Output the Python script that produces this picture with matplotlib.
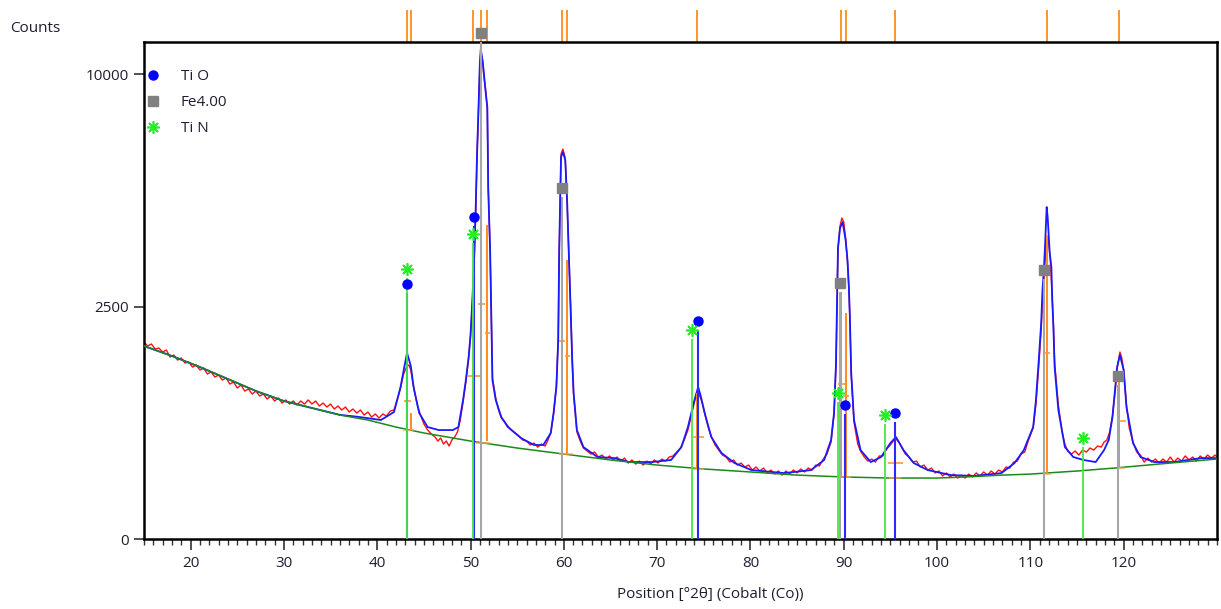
import numpy as np
import matplotlib
matplotlib.use('Agg')
import matplotlib.pyplot as plt
from matplotlib import transforms
from matplotlib.lines import Line2D

plt.rcParams['font.family'] = ['Open Sans', 'DejaVu Sans']

# observed pattern (red)
obs_2theta = [
    15.0, 15.4, 15.8, 16.2, 16.6, 17.0, 17.4, 17.8, 18.2, 18.6,
    19.0, 19.4, 19.8, 20.2, 20.6, 21.0, 21.4, 21.8, 22.2, 22.6,
    23.0, 23.4, 23.8, 24.2, 24.6, 25.0, 25.4, 25.8, 26.2, 26.6,
    27.0, 27.4, 27.8, 28.2, 28.6, 29.0, 29.4, 29.8, 30.2, 30.6,
    31.0, 31.4, 31.8, 32.2, 32.6, 33.0, 33.4, 33.8, 34.2, 34.6,
    35.0, 35.4, 35.8, 36.2, 36.6, 37.0, 37.4, 37.8, 38.2, 38.6,
    39.0, 39.4, 39.8, 40.2, 40.6, 41.0, 41.4, 41.8, 42.2, 42.5,
    42.8, 43.0, 43.2, 43.4, 43.6, 43.8, 44.0, 44.3, 44.6, 45.0,
    45.4, 45.8, 46.2, 46.5, 46.8, 47.1, 47.4, 47.7, 48.0, 48.3,
    48.6, 48.9, 49.2, 49.5, 49.8, 50.0, 50.2, 50.4, 50.55, 50.7,
    50.85, 51.0, 51.1, 51.3, 51.4, 51.6, 51.8, 51.9, 52.1, 52.2,
    52.35, 52.7, 53.0, 53.3, 53.6, 54.0, 54.4, 54.8, 55.2, 55.6,
    56.0, 56.4, 56.8, 57.2, 57.6, 58.0, 58.3, 58.6, 58.9, 59.2,
    59.4, 59.5, 59.7, 59.9, 60.15, 60.35, 60.5, 60.7, 60.9, 61.05,
    61.4, 61.8, 62.1, 62.5, 62.9, 63.3, 63.7, 64.1, 64.5, 64.9,
    65.3, 65.7, 66.1, 66.5, 66.9, 67.3, 67.7, 68.1, 68.5, 68.9,
    69.3, 69.7, 70.1, 70.5, 70.9, 71.3, 71.7, 72.1, 72.5, 72.9,
    73.3, 73.7, 74.0, 74.3, 74.5, 74.8, 75.1, 75.5, 75.8, 76.2,
    76.6, 77.0, 77.4, 77.8, 78.2, 78.6, 79.0, 79.4, 79.8, 80.2,
    80.6, 81.0, 81.4, 81.8, 82.2, 82.6, 83.0, 83.4, 83.8, 84.2,
    84.6, 85.0, 85.4, 85.8, 86.2, 86.6, 87.0, 87.4, 87.8, 88.2,
    88.64, 88.96, 89.17, 89.28, 89.38, 89.6, 89.8, 90.0, 90.2, 90.4,
    90.55, 90.65, 90.8, 91.1, 91.5, 91.8, 92.2, 92.6, 93.0, 93.4,
    93.8, 94.2, 94.6, 95.0, 95.3, 95.6, 95.9, 96.2, 96.6, 97.0,
    97.4, 97.8, 98.2, 98.6, 99.0, 99.4, 99.8, 100.2, 100.6, 101.0,
    101.4, 101.8, 102.2, 102.6, 103.0, 103.4, 103.8, 104.2, 104.6, 105.0,
    105.4, 105.8, 106.2, 106.6, 107.0, 107.4, 107.8, 108.2, 108.6, 109.0,
    109.4, 109.8, 110.3, 110.6, 110.9, 111.16, 111.3, 111.45, 111.6, 111.75,
    111.86, 112.0, 112.15, 112.3, 112.47, 112.6, 113.0, 113.4, 113.7, 114.0,
    114.4, 114.8, 115.2, 115.6, 116.0, 116.4, 116.8, 117.2, 117.6, 117.9,
    118.2, 118.5, 118.8, 119.1, 119.3, 119.6, 119.8, 120.0, 120.3, 120.6,
    121.0, 121.4, 121.8, 122.2, 122.6, 123.0, 123.4, 123.8, 124.2, 124.6,
    125.0, 125.4, 125.8, 126.2, 126.6, 127.0, 127.4, 127.8, 128.2, 128.6,
    129.0, 129.4, 129.8, 130.0,
]
obs_counts = [
    1795, 1723, 1759, 1670, 1687, 1617, 1652, 1532, 1566, 1482,
    1515, 1433, 1449, 1368, 1400, 1321, 1352, 1259, 1290, 1214,
    1244, 1169, 1199, 1111, 1140, 1055, 1097, 1013, 1041, 972,
    1013, 946, 972, 907, 946, 881, 920, 855, 894, 843,
    881, 830, 881, 843, 894, 843, 881, 818, 855, 806,
    843, 782, 818, 770, 806, 746, 782, 734, 770, 711,
    746, 688, 723, 677, 723, 700, 758, 770, 920, 1055,
    1244, 1321, 1384, 1400, 1321, 1140, 999, 830, 723, 612,
    550, 510, 481, 444, 472, 417, 444, 400, 453, 481,
    530, 655, 868, 1140, 1515, 1906, 2598, 3651, 4885, 6749,
    8432, 10347, 10969, 10611, 10000, 9407, 8512, 5763, 3810, 2598,
    1199, 920, 770, 677, 644, 591, 550, 520, 491, 453,
    444, 409, 426, 391, 417, 400, 453, 520, 723, 1083,
    1869, 3730, 6855, 7034, 6713, 5252, 3998, 2686, 1449, 959,
    530, 435, 383, 358, 334, 350, 311, 326, 296, 319,
    289, 311, 281, 303, 267, 289, 260, 281, 253, 281,
    260, 289, 267, 296, 281, 311, 319, 350, 383, 453,
    550, 723, 868, 999, 972, 868, 723, 570, 491, 409,
    366, 326, 311, 274, 289, 253, 267, 240, 253, 220,
    240, 214, 233, 202, 220, 195, 214, 189, 214, 195,
    220, 202, 227, 208, 233, 220, 253, 247, 296, 334,
    435, 723, 1400, 2598, 3863, 4531, 4766, 4647, 4190, 3549,
    2891, 2279, 1244, 633, 417, 358, 311, 281, 296, 274,
    319, 319, 375, 409, 444, 463, 435, 391, 334, 311,
    274, 281, 240, 253, 220, 233, 202, 214, 184, 202,
    178, 195, 172, 189, 172, 195, 178, 202, 184, 208,
    189, 214, 195, 220, 208, 240, 233, 274, 281, 334,
    350, 453, 570, 843, 1384, 2020, 2642, 3055, 3651, 4134,
    4246, 3970, 3549, 2867, 2118, 1449, 830, 530, 417, 358,
    334, 358, 326, 366, 350, 383, 366, 400, 391, 435,
    453, 530, 700, 1027, 1352, 1617, 1515, 1321, 830, 570,
    435, 350, 326, 274, 303, 274, 296, 267, 296, 274,
    311, 274, 303, 281, 319, 289, 311, 281, 319, 296,
    326, 303, 326, 311,
]

# calculated profile (blue)
calc_2theta = [
    15, 18, 21, 24, 27, 30, 33, 36, 38, 40.4,
    41.8, 42.5, 42.9, 43.2, 43.6, 43.9, 44.5, 45.4, 46.6, 48.1,
    48.7, 49.2, 49.5, 49.8, 50.0, 50.2, 50.4, 50.55, 50.7, 50.85,
    51.0, 51.1, 51.3, 51.4, 51.6, 51.8, 51.9, 52.1, 52.2, 52.35,
    52.7, 53.3, 54.0, 55.4, 56.8, 57.8, 58.6, 58.9, 59.2, 59.4,
    59.5, 59.7, 59.9, 60.15, 60.35, 60.5, 60.7, 60.9, 61.05, 61.4,
    62.1, 63.6, 65.4, 67.0, 69.4, 71.5, 72.6, 73.3, 74.0, 74.4,
    74.7, 75.1, 75.8, 76.9, 78.3, 80.1, 83.6, 86.5, 87.9, 88.64,
    88.96, 89.17, 89.28, 89.38, 89.6, 89.88, 90.2, 90.4, 90.55, 90.65,
    90.8, 91.1, 91.8, 92.9, 94.0, 95.0, 95.6, 96.4, 97.5, 99.0,
    101.5, 104.0, 106.9, 108.3, 109.3, 110.3, 110.6, 110.9, 111.16, 111.3,
    111.45, 111.6, 111.75, 111.86, 112.07, 112.25, 112.35, 112.47, 112.6, 113.0,
    113.7, 114.6, 115.7, 117.0, 117.9, 118.4, 118.8, 119.3, 119.6, 120.0,
    120.3, 121.0, 121.8, 123.3, 125.4, 128.3, 130.0,
]
calc_counts = [
    1723, 1549, 1368, 1184, 1013, 881, 794, 713, 690, 655,
    746, 1068, 1368, 1600, 1384, 1068, 734, 580, 549, 549,
    580, 894, 1169, 1532, 1925, 2642, 3730, 5006, 6891, 8512,
    10479, 11104, 10523, 10173, 9323, 8631, 5633, 3863, 2642, 1169,
    894, 688, 580, 472, 409, 409, 520, 734, 1068, 1832,
    3783, 6749, 6927, 6643, 5315, 4052, 2708, 1482, 986, 549,
    391, 311, 303, 274, 274, 289, 391, 580, 894, 1068,
    932, 734, 481, 342, 267, 220, 201, 220, 289, 453,
    734, 1433, 2642, 3916, 4473, 4647, 4134, 3600, 2937, 2321,
    1274, 655, 366, 274, 311, 426, 481, 366, 267, 220,
    189, 184, 201, 267, 366, 580, 894, 1482, 2158, 2867,
    3347, 4134, 5097, 4766, 3810, 3421, 2642, 2079, 1368, 770,
    391, 311, 289, 274, 366, 453, 688, 1368, 1566, 1321,
    806, 426, 311, 274, 274, 303, 303,
]

# background (green)
bg_2theta = [15, 18, 21, 24, 27, 30, 33, 36, 39, 42, 45, 50, 55, 60, 65,
             70, 75, 80, 85, 90, 95, 100, 103, 107, 110, 115, 119, 125, 130]
bg_counts = [1723, 1549, 1368, 1184, 1013, 881, 794, 711, 655, 580, 520, 444,
             383, 334, 289, 253, 227, 208, 189, 178, 172, 172, 178, 189, 195,
             214, 233, 267, 296]

# fitted peak sticks (orange)
peak_pos = [43.2, 43.6, 50.26, 51.1, 51.75, 59.8, 60.34, 74.27, 89.7, 90.2,
            95.45, 111.78, 119.55]
peak_top = [1274, 734, 2362, 6400, 4560, 4473, 3600, 986, 2822, 2362, 409,
            4274, 1140]
peak_base = [549, 549, 444, 444, 444, 334, 334, 227, 178, 178, 172, 195, 233]
fwhm_y = [881, 1229, 2554, 1963, 1813, 1549, 481, 1111, 946, 267, 1600, 644]
fwhm_lo = [42.9, 49.6, 50.8, 51.55, 59.5, 60.1, 73.85, 89.4, 89.95, 94.75,
           111.5, 119.3]
fwhm_hi = [43.6, 51.1, 51.55, 52.1, 60.1, 60.65, 75.05, 90.1, 90.6, 96.35,
           112.1, 120.3]
base_y = [549, 426, 334, 227, 178, 172, 195, 233]
base_lo = [42.8, 50.6, 59.5, 73.85, 89.3, 94.9, 111.4, 119.3]
base_hi = [43.9, 52.2, 61.0, 75.05, 90.8, 96.1, 112.2, 120.1]

# reference patterns
tio_pos = [43.24, 50.4, 74.36, 90.16, 95.52]
tio_int = [2799, 4531, 2020, 723, 633]
fe_pos = [51.17, 59.78, 89.56, 111.46, 119.35]
fe_int = [11424, 5409, 2822, 3126, 1097]
tin_pos = [43.24, 50.28, 73.7, 89.35, 94.42, 115.64]
tin_int = [3150, 4052, 1850, 868, 612, 391]

text_col = '#1e1e32'

fig = plt.figure(figsize=(12.21, 6.09), dpi=100)
ax = fig.add_axes([0.1179, 0.1149, 0.8788, 0.8161])


def fwd(v):
    return np.sqrt(np.clip(v, 0, None))


def inv(v):
    return np.square(v)


ax.set_yscale('function', functions=(fwd, inv))

ax.plot(obs_2theta, obs_counts, color='#ff1010', lw=1.0, zorder=2)
ax.plot(calc_2theta, calc_counts, color='#1a1aff', lw=1.3, zorder=3)
ax.plot(bg_2theta, bg_counts, color='#1a8a1a', lw=1.1, zorder=4)

ax.vlines(peak_pos, peak_base, peak_top, color='#ff8c1a', lw=1.4, zorder=4.5)
ax.hlines(fwhm_y, fwhm_lo, fwhm_hi, color='#ff9a33', lw=1.2, zorder=4.5)
ax.hlines(base_y, base_lo, base_hi, color='#ffa040', lw=1.2, alpha=0.8, zorder=4.5)

# reference sticks, marker drawn a little above the stick top
ax.vlines(tio_pos, 0, tio_int, color='#2a2aff', lw=1.5, zorder=5)
ax.vlines(fe_pos, 0, fe_int, color='#a6a6a6', lw=1.5, zorder=5)
ax.vlines(tin_pos, 0, tin_int, color='#44e844', lw=1.3, zorder=5)

lift = transforms.offset_copy(ax.transData, fig=fig, x=0, y=9, units='dots')
ax.plot(tio_pos, tio_int, 'o', color='#0000ff', ms=6.5, transform=lift,
        clip_on=False, zorder=6)
ax.plot(fe_pos, fe_int, 's', color='#808080', ms=7, transform=lift,
        clip_on=False, zorder=6)
ax.plot(tin_pos, tin_int, ls='none', marker=(8, 2, 0), color='#22ee22',
        ms=9, mew=1.2, transform=lift, clip_on=False, zorder=6)

# peak position marks above the frame
top_tr = transforms.blended_transform_factory(ax.transData, ax.transAxes)
ax.vlines(peak_pos, 1.0, 1.064, transform=top_tr, color='#ff8c1a', lw=1.3,
          clip_on=False)

ax.set_xlim(15, 130)
ax.set_ylim(0, 11424)

ax.set_xticks(np.arange(20, 130, 10))
ax.set_xticks(np.arange(15, 131, 1), minor=True)
ax.set_yticks([0, 2500, 10000], ['0', '2500', '10000'])
ax.tick_params(axis='x', which='major', length=8, width=1.2, colors='#333333',
               labelcolor=text_col, labelsize=11, pad=4)
ax.tick_params(axis='x', which='minor', length=4, width=1.0, colors='#333333')
ax.tick_params(axis='y', which='major', length=7, width=1.2, colors='#333333',
               labelcolor=text_col, labelsize=11, pad=4)
ax.tick_params(axis='y', which='minor', length=0)

for sp in ax.spines.values():
    sp.set_linewidth(1.8)
    sp.set_color('black')

ax.set_xlabel('Position [°2θ] (Cobalt (Co))', fontsize=11, color=text_col)
ax.xaxis.set_label_coords(0.528, -0.097)
fig.text(10 / 1221, 1 - 28 / 609, 'Counts', fontsize=11, color=text_col,
         ha='left', va='center')

handles = [
    Line2D([], [], ls='none', marker='o', color='#0000ff', ms=6.5),
    Line2D([], [], ls='none', marker='s', color='#808080', ms=7),
    Line2D([], [], ls='none', marker=(8, 2, 0), color='#22ee22', ms=9, mew=1.2),
]
ax.legend(handles, ['Ti O', 'Fe4.00', 'Ti N'], loc='upper left',
          bbox_to_anchor=(0.003, 0.945), frameon=False, fontsize=11,
          handlelength=0.8, handletextpad=1.4, labelspacing=0.72,
          borderaxespad=0, borderpad=0, labelcolor=text_col)

fig.savefig('out.png', dpi=100)
